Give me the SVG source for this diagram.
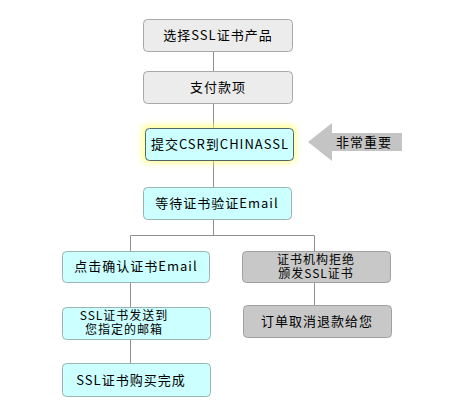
<svg xmlns="http://www.w3.org/2000/svg" width="452" height="409" viewBox="0 0 452 409">
<defs>
<style>
.t{font-family:"SimSun","Noto Sans CJK SC",sans-serif;font-size:13px;fill:#000;text-anchor:middle;letter-spacing:1px}
.s{font-size:12px}
.g{fill:#ececec;stroke:#a8a8a8;stroke-width:1}
.c{fill:#ccffff;stroke:#9ab4b4;stroke-width:1}
.d{fill:#c8c8c8;stroke:#a0a0a0;stroke-width:1}
.ln{stroke:#909090;stroke-width:1;fill:none}
</style>
<filter id="glow" x="-20%" y="-50%" width="140%" height="200%">
<feGaussianBlur stdDeviation="3"/>
</filter>
</defs>
<rect width="452" height="409" fill="#fff"/>
<g id="connectors">
<path class="ln" d="M213.5 51V71M213.5 103V128M213.5 160V187M213.5 219V235.5M130.5 235.5H314.5M130.5 235.5V251M314.5 235.5V251M130.5 282V307M130.5 339V363M314.5 282V305"/>
</g>
<g id="n1"><rect class="g" x="143.5" y="19.5" width="149" height="32" rx="4"/><text class="t" x="218" y="40">选择SSL证书产品</text></g>
<g id="n2"><rect class="g" x="143.5" y="71.5" width="149" height="32" rx="4"/><text class="t" x="218" y="92">支付款项</text></g>
<g id="n3">
<rect x="142" y="125" width="154" height="38" rx="6" fill="#ffff66" opacity="0.7" filter="url(#glow)"/>
<rect x="145.5" y="128.5" width="148" height="32" rx="4" fill="#ccffff" stroke="#556666"/>
<text class="t" x="220" y="149">提交CSR到CHINASSL</text></g>
<g id="note">
<polygon points="308,142 332,123 332,133 402,133 402,151 332,151 332,161" fill="#c4c4c4"/>
<text class="t" x="364" y="147" letter-spacing="2">非常重要</text></g>
<g id="n4"><rect class="c" x="143.5" y="187.5" width="148" height="32" rx="4"/><text class="t" x="217" y="208">等待证书验证Email</text></g>
<g id="n5"><rect class="c" x="62.5" y="251.5" width="147" height="31" rx="4"/><text class="t" x="136" y="271">点击确认证书Email</text></g>
<g id="n6"><rect class="d" x="242.5" y="251.5" width="148" height="31" rx="4"/><text class="t s" x="316" y="264">证书机构拒绝</text><text class="t s" x="316" y="278">颁发SSL证书</text></g>
<g id="n7"><rect class="c" x="62.5" y="307.5" width="148" height="32" rx="4"/><text class="t s" x="124" y="320">SSL证书发送到</text><text class="t s" x="124" y="334" letter-spacing="3">您指定的邮箱</text></g>
<g id="n8"><rect class="d" x="243.5" y="305.5" width="148" height="32" rx="4"/><text class="t" x="317" y="326">订单取消退款给您</text></g>
<g id="n9"><rect class="c" x="62.5" y="363.5" width="148" height="33" rx="4"/><text class="t" x="131" y="385">SSL证书购买完成</text></g>
</svg>
